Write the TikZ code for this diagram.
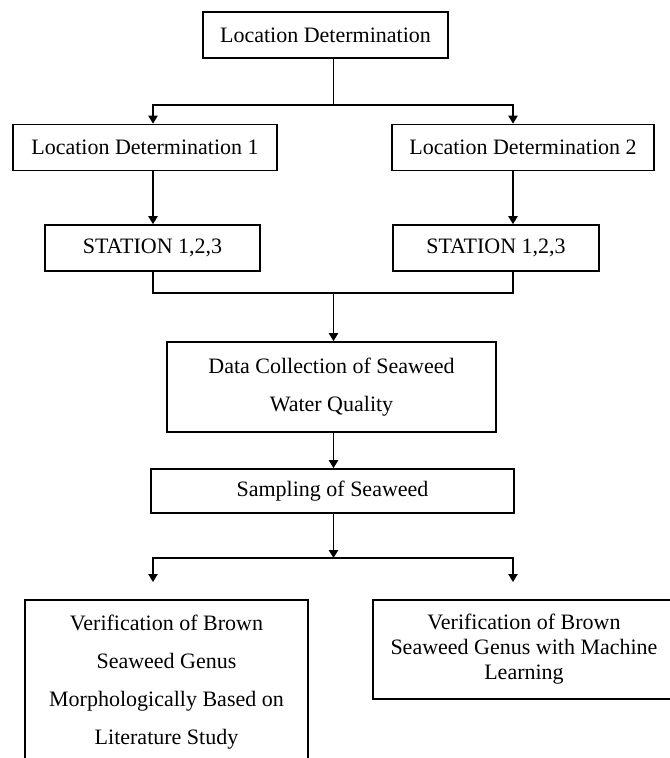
\documentclass[tikz,border=0pt]{standalone}
\usepackage{fontspec}
\setmainfont{Liberation Serif}
\usetikzlibrary{arrows.meta}

\begin{document}
\begin{tikzpicture}[x=0.75pt,y=-0.75pt,
        box/.style={draw,line width=1.3pt,inner sep=2pt,align=center,font=\fontsize{16.5}{20}\selectfont},
        link/.style={line width=1.1pt},
        arr/.style={link,-{Triangle[length=6pt,width=7pt]}}]
        \useasboundingbox (0,0) rectangle (670,758);
        \clip (0,0) rectangle (670,758);
        \node[box,minimum width=183.75pt,minimum height=34.5pt] (top) at (325.5,35) {Location Determination};
        \node[box,minimum width=198pt,minimum height=34.5pt] (ld1) at (145,147.5) {Location Determination 1};
        \node[box,minimum width=196.5pt,minimum height=34.5pt] (ld2) at (523,147.5) {Location Determination 2};
        \node[box,minimum width=161.25pt,minimum height=34.5pt] (st1) at (152.5,248) {STATION 1,2,3};
        \node[box,minimum width=154.5pt,minimum height=34.5pt] (st2) at (496,248) {STATION 1,2,3};
        \node[box,minimum width=246.75pt,minimum height=67.5pt,font=\fontsize{16.5}{28.5}\selectfont] (data) at (331.5,387) {Data Collection of Seaweed\\Water Quality};
        \node[box,minimum width=272.25pt,minimum height=33pt] (samp) at (332.5,491) {Sampling of Seaweed};
        \node[box,minimum width=212.25pt,minimum height=123pt,font=\fontsize{16.5}{28.5}\selectfont] (ver1) at (166.5,682) {Verification of Brown\\Seaweed Genus\\Morphologically Based on\\Literature Study};
        \node[box,minimum width=226.5pt,minimum height=74.25pt,font=\fontsize{16.5}{18.75}\selectfont] (ver2) at (524,649.5) {Verification of Brown\\Seaweed Genus with Machine\\Learning};
        \coordinate (colL) at (153,0);
        \coordinate (colR) at (513,0);
        \coordinate (fork1) at (333.5,105);
        \coordinate (join) at (333.5,293);
        \coordinate (fork2) at (333.5,558);
        \coordinate (tipL) at (153,582);
        \coordinate (tipR) at (513,582);
        \draw[link] (top.south -| fork1) -- (fork1);
        \draw[arr] (fork1) -| (ld1.north -| colL);
        \draw[arr] (fork1) -| (ld2.north -| colR);
        \draw[arr] (ld1.south -| colL) -- (st1.north -| colL);
        \draw[arr] (ld2.south -| colR) -- (st2.north -| colR);
        \draw[link] (st1.south -| colL) |- (join) -| (st2.south -| colR);
        \draw[arr] (join) -- (data.north -| join);
        \draw[arr] (data.south -| join) -- (samp.north -| join);
        \draw[arr] (samp.south -| fork2) -- (fork2);
        \draw[arr] (fork2) -| (tipL);
        \draw[arr] (fork2) -| (tipR);
    \end{tikzpicture}
\end{document}
